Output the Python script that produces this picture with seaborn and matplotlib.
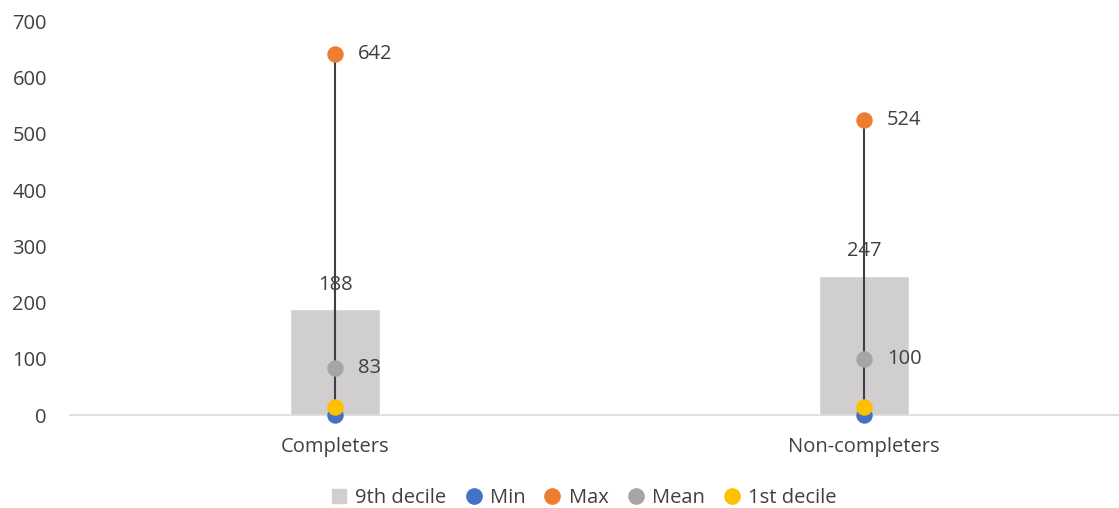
import matplotlib
matplotlib.use("Agg")
import matplotlib.pyplot as plt
from matplotlib.lines import Line2D
import seaborn as sns
import pandas as pd

# values
groups = ["Completers", "Non-completers"]
decile9 = [188, 247]
val_min = [0, 0]
val_max = [642, 524]
val_mean = [83, 100]
decile1 = [14, 14]

text_col = "#404040"
c_bar = "#D0CECE"
c_min = "#4472C4"
c_max = "#ED7D31"
c_mean = "#A5A5A5"
c_d1 = "#FFC000"
fs = 14.5

sns.set_style("white")
plt.rcParams["font.family"] = ["Open Sans", "DejaVu Sans"]

df = pd.DataFrame({"group": groups, "d9": decile9})

fig = plt.figure(figsize=(11.19, 5.08), dpi=100)
ax = fig.add_axes([0.063, 0.183, 0.9455, 0.775])

sns.barplot(data=df, x="group", y="d9", color=c_bar, width=0.17,
            saturation=1, ax=ax, zorder=1)

pos = list(range(len(groups)))
ax.vlines(pos, val_min, val_max, color=text_col, lw=1.5, zorder=2)
for vals, col, z in [(val_min, c_min, 3), (val_max, c_max, 3),
                     (val_mean, c_mean, 3), (decile1, c_d1, 4)]:
    ax.scatter(pos, vals, s=140, color=col, zorder=z, linewidths=0, clip_on=False)

for i in pos:
    ax.text(i, decile9[i] + 26, str(decile9[i]), ha="center", va="bottom",
            fontsize=fs, color=text_col)
    ax.text(i + 0.043, val_max[i], str(val_max[i]), ha="left", va="center",
            fontsize=fs, color=text_col)
    ax.text(i + 0.043, val_mean[i], str(val_mean[i]), ha="left", va="center",
            fontsize=fs, color=text_col)

ax.set_ylim(0, 700)
ax.set_yticks(range(0, 701, 100))
ax.set_xlim(-0.5, 1.5)
ax.set_xlabel("")
ax.set_ylabel("")
for s in ["top", "right", "left"]:
    ax.spines[s].set_visible(False)
ax.spines["bottom"].set_color("#D9D9D9")
ax.spines["bottom"].set_linewidth(1.2)
ax.spines["bottom"].set_zorder(0)
ax.tick_params(axis="both", length=0, labelsize=fs, labelcolor=text_col)
ax.tick_params(axis="y", pad=17)
ax.tick_params(axis="x", pad=16)

handles = [
    Line2D([], [], marker="s", ls="", color=c_bar, markersize=10, label="9th decile"),
    Line2D([], [], marker="o", ls="", color=c_min, markersize=11, label="Min"),
    Line2D([], [], marker="o", ls="", color=c_max, markersize=11, label="Max"),
    Line2D([], [], marker="o", ls="", color=c_mean, markersize=11, label="Mean"),
    Line2D([], [], marker="o", ls="", color=c_d1, markersize=11, label="1st decile"),
]
fig.legend(handles=handles, loc="center", bbox_to_anchor=(0.518, 0.02),
           ncol=5, frameon=False, fontsize=fs, handletextpad=0.0,
           handlelength=1.6, columnspacing=0.55, labelcolor=text_col)

fig.savefig("out.png", dpi=100)
